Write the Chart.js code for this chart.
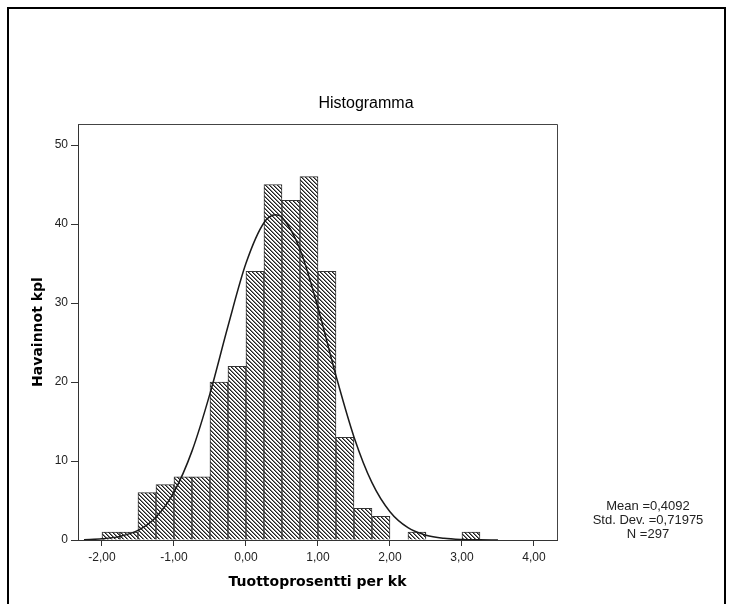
<!DOCTYPE html>
<html><head><meta charset="utf-8">
<script src="https://cdn.jsdelivr.net/npm/chart.js@4.4.0/dist/chart.umd.min.js"></script>
<style>html,body{margin:0;padding:0;background:#fff;}canvas{display:block;}</style>
</head><body>
<canvas id="c" width="730" height="604"></canvas>
<script>
// ---- data ----
const binCenters = [-1.875,-1.625,-1.375,-1.125,-0.875,-0.625,-0.375,-0.125,0.125,0.375,0.625,0.875,1.125,1.375,1.625,1.875,2.125,2.375,2.625,2.875,3.125];
const counts     = [1,1,6,7,8,8,20,22,34,45,43,46,34,13,4,3,0,1,0,0,1];
const curveX = [-2.25,-2.0,-1.75,-1.5,-1.25,-1.0,-0.75,-0.5,-0.25,0.0,0.25,0.41,0.5,0.75,1.0,1.25,1.5,1.75,2.0,2.25,2.5,2.75,3.0,3.25,3.5];
const curveY = [0.04,0.15,0.46,1.22,2.89,6.06,11.25,18.53,27.06,35.02,40.16,41.16,40.84,36.80,29.39,20.80,13.05,7.26,3.58,1.56,0.61,0.21,0.06,0.02,0.0];
const xTickValues = [-2,-1,0,1,2,3,4];
const yTickValues = [0,10,20,30,40,50];
const chartTitle = 'Histogramma';
const xTitle = 'Tuottoprosentti per kk';
const yTitle = 'Havainnot kpl';
const statsLines = ['Mean =0,4092','Std. Dev. =0,71975','N =297'];

const canvas = document.getElementById('c');
const mainCtx = canvas.getContext('2d');

function makeHatch(){
  const s = 4;
  const t = document.createElement('canvas');
  t.width = s; t.height = s;
  const tc = t.getContext('2d');
  const img = tc.createImageData(s, s);
  for (let y = 0; y < s; y++) for (let x = 0; x < s; x++) {
    const d = ((x - y) % s + s) % s;
    const v = d === 0 ? 30 : (d === 1 ? 130 : 255);
    const i = (y * s + x) * 4;
    img.data[i] = v; img.data[i+1] = v; img.data[i+2] = v; img.data[i+3] = 255;
  }
  tc.putImageData(img, 0, 0);
  return mainCtx.createPattern(t, 'repeat');
}

const sansFont = "'Liberation Sans', Arial, sans-serif";
const boldFont = "'DejaVu Sans', Verdana, sans-serif";

const decor = {
  id: 'decor',
  beforeDraw(chart){
    const c = chart.ctx;
    c.save(); c.fillStyle = '#fff'; c.fillRect(0,0,chart.width,chart.height); c.restore();
  },
  afterDraw(chart){
    const c = chart.ctx; const a = chart.chartArea;
    c.save();
    c.strokeStyle = '#444'; c.lineWidth = 1;
    c.beginPath();
    c.moveTo(a.left, a.top + 0.5); c.lineTo(a.right + 0.5, a.top + 0.5); c.lineTo(a.right + 0.5, a.bottom);
    c.stroke();
    c.fillStyle = '#000';
    c.fillRect(7, 7, 719, 2);
    c.fillRect(7, 7, 2, 604);
    c.fillRect(724, 7, 2, 604);
    c.fillStyle = '#000';
    c.font = "16px " + sansFont;
    c.textAlign = 'center'; c.textBaseline = 'middle';
    c.fillText(chartTitle, 366, 104);
    c.fillStyle = '#222';
    c.font = "13px " + sansFont;
    statsLines.forEach((s, i) => c.fillText(s, 648, 506 + i * 14));
    c.restore();
  }
};

new Chart(canvas, {
  type: 'bar',
  data: {
    datasets: [
      {
        type: 'line',
        data: curveX.map((x, i) => ({x: x, y: curveY[i]})),
        borderColor: '#1a1a1a',
        borderWidth: 1.5,
        pointRadius: 0,
        fill: false,
        cubicInterpolationMode: 'monotone',
        order: 0
      },
      {
        type: 'bar',
        data: binCenters.map((x, i) => ({x: x, y: counts[i]})),
        backgroundColor: makeHatch(),
        borderColor: '#333',
        borderWidth: 1,
        borderSkipped: 'start',
        barPercentage: 1.0,
        categoryPercentage: 1.0,
        order: 1
      }
    ]
  },
  options: {
    responsive: false,
    animation: false,
    events: [],
    layout: { padding: { left: 0, right: 173, top: 124, bottom: 0 } },
    plugins: { legend: { display: false }, tooltip: { enabled: false }, title: { display: false } },
    scales: {
      x: {
        type: 'linear',
        offset: false,
        min: -2.333,
        max: 4.32,
        afterBuildTicks: (s) => { s.ticks = xTickValues.map(v => ({value: v})); },
        afterFit: (s) => { s.height = 64; },
        ticks: {
          autoSkip: false, maxRotation: 0, padding: 4, color: '#222',
          font: { family: sansFont, size: 12 },
          callback: (v) => Number(v).toFixed(2).replace('.', ',')
        },
        grid: { offset: false, drawOnChartArea: false, drawTicks: true, tickLength: 6, color: '#333', tickWidth: 1 },
        border: { display: true, color: '#333', width: 1 },
        title: { display: true, text: xTitle, color: '#000', font: { family: boldFont, size: 14, weight: 'bold' }, padding: { top: 0, bottom: 13 } }
      },
      y: {
        type: 'linear',
        min: 0,
        max: 52.66,
        afterBuildTicks: (s) => { s.ticks = yTickValues.map(v => ({value: v})); },
        afterFit: (s) => { s.width = 78; },
        ticks: { padding: 3, color: '#222', font: { family: sansFont, size: 12 }, callback: (v) => String(v) },
        grid: { drawOnChartArea: false, drawTicks: true, tickLength: 7, color: '#333', tickWidth: 1 },
        border: { display: true, color: '#333', width: 1 },
        title: { display: true, text: yTitle, color: '#000', font: { family: boldFont, size: 14, weight: 'bold' }, padding: { top: 30, bottom: 0 } }
      }
    }
  },
  plugins: [decor]
});
</script>
</body></html>
